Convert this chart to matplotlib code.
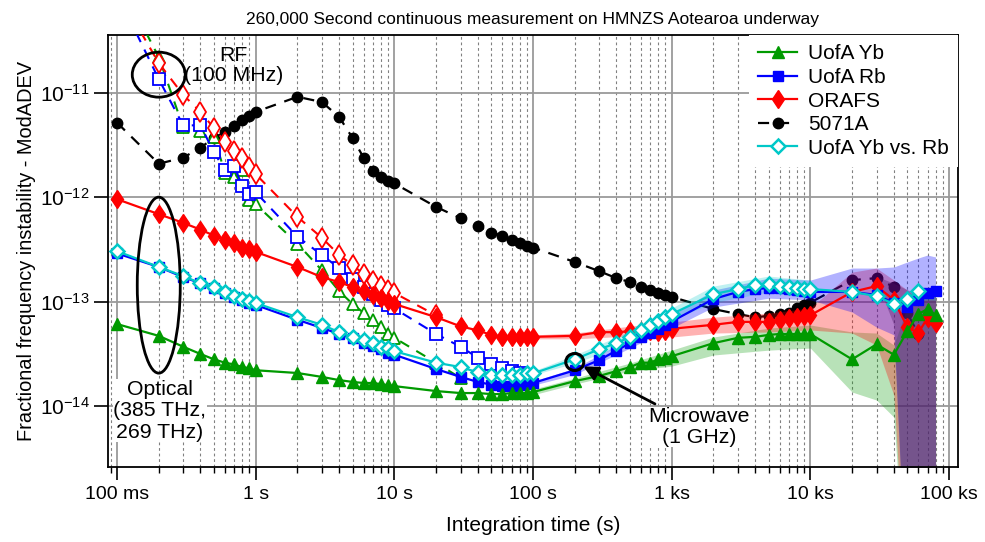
import matplotlib
matplotlib.use("Agg")
import matplotlib.pyplot as plt
from matplotlib.patches import Ellipse
from matplotlib.transforms import ScaledTranslation
import matplotlib.ticker as mticker

plt.rcParams['font.family'] = ['Liberation Sans', 'DejaVu Sans']
plt.rcParams['mathtext.fontset'] = 'custom'
plt.rcParams['mathtext.rm'] = 'Liberation Sans'
plt.rcParams['mathtext.default'] = 'regular'

# ---------------- data ----------------
tau = [0.1, 0.2, 0.3, 0.4, 0.5, 0.6, 0.7, 0.8, 0.9,
       1, 2, 3, 4, 5, 6, 7, 8, 9,
       10, 20, 30, 40, 50, 60, 70, 80, 90,
       100, 200, 300, 400, 500, 600, 700, 800, 900,
       1000, 2000, 3000, 4000, 5000, 6000, 7000, 8000, 9000,
       10000, 20000, 30000, 40000, 50000, 60000, 70000, 80000]

yb = [6.1e-14, 4.7e-14, 3.7e-14, 3.15e-14, 2.8e-14, 2.6e-14, 2.5e-14, 2.36e-14, 2.3e-14,
      2.2e-14, 2.07e-14, 1.9e-14, 1.77e-14, 1.7e-14, 1.66e-14, 1.66e-14, 1.62e-14, 1.58e-14,
      1.55e-14, 1.39e-14, 1.33e-14, 1.33e-14, 1.30e-14, 1.30e-14, 1.33e-14, 1.33e-14, 1.33e-14,
      1.36e-14, 1.73e-14, 1.94e-14, 2.16e-14, 2.36e-14, 2.6e-14, 2.6e-14, 2.8e-14, 2.9e-14,
      3.0e-14, 4.0e-14, 4.5e-14, 4.6e-14, 4.8e-14, 4.9e-14, 4.9e-14, 4.9e-14, 4.9e-14,
      4.9e-14, 2.8e-14, 3.9e-14, 3.1e-14, 5.2e-14, 7.6e-14, 8.5e-14, 7.4e-14]

rb = [2.9e-13, 2.15e-13, 1.72e-13, 1.5e-13, 1.35e-13, 1.21e-13, 1.11e-13, 1.04e-13, 9.7e-14,
      9.3e-14, 6.7e-14, 5.6e-14, 4.9e-14, 4.5e-14, 4.0e-14, 3.75e-14, 3.5e-14, 3.2e-14,
      3.1e-14, 2.26e-14, 1.9e-14, 1.7e-14, 1.6e-14, 1.55e-14, 1.57e-14, 1.58e-14, 1.62e-14,
      1.66e-14, 2.2e-14, 2.75e-14, 3.4e-14, 4.0e-14, 4.6e-14, 5.0e-14, 5.5e-14, 6.0e-14,
      6.45e-14, 1.06e-13, 1.24e-13, 1.32e-13, 1.35e-13, 1.35e-13, 1.32e-13, 1.29e-13, 1.26e-13,
      1.24e-13, 1.24e-13, 1.16e-13, 9.7e-14, 8.9e-14, 1.04e-13, 1.21e-13, 1.26e-13]

orafs = [9.6e-13, 6.9e-13, 5.7e-13, 4.9e-13, 4.3e-13, 3.9e-13, 3.65e-13, 3.3e-13, 3.2e-13,
         3.0e-13, 2.15e-13, 1.72e-13, 1.54e-13, 1.38e-13, 1.26e-13, 1.16e-13, 1.08e-13, 1.01e-13,
         9.5e-14, 7.1e-14, 5.8e-14, 5.3e-14, 4.8e-14, 4.6e-14, 4.6e-14, 4.6e-14, 4.6e-14,
         4.6e-14, 4.7e-14, 5.1e-14, 5.1e-14, 5.2e-14, 5.2e-14, 5.2e-14, 5.1e-14, 5.2e-14,
         5.5e-14, 6.0e-14, 6.4e-14, 6.4e-14, 6.4e-14, 6.7e-14, 7.0e-14, 7.1e-14, 7.3e-14,
         7.4e-14, 1.24e-13, 1.41e-13, 1.04e-13, 5.7e-14, 5.0e-14, 7.0e-14, 6.2e-14]

tau_cs = tau[:51]
cs5071 = [5.2e-12, 2.1e-12, 2.4e-12, 3.0e-12, 3.7e-12, 4.2e-12, 4.8e-12, 5.5e-12, 6.0e-12,
          6.6e-12, 9.2e-12, 8.2e-12, 5.9e-12, 3.7e-12, 2.4e-12, 1.8e-12, 1.57e-12, 1.43e-12,
          1.36e-12, 8.1e-13, 6.3e-13, 5.3e-13, 4.6e-13, 4.3e-13, 3.9e-13, 3.65e-13, 3.4e-13,
          3.3e-13, 2.4e-13, 1.96e-13, 1.68e-13, 1.54e-13, 1.38e-13, 1.29e-13, 1.21e-13, 1.16e-13,
          1.11e-13, 8.5e-14, 7.6e-14, 7.1e-14, 7.3e-14, 7.6e-14, 7.8e-14, 8.7e-14, 9.3e-14,
          9.8e-14, 1.61e-13, 1.68e-13, 1.38e-13, 7.8e-14, 4.9e-14]

tau_ybrb = tau[:51]
ybrb = [3.05e-13, 2.15e-13, 1.76e-13, 1.5e-13, 1.38e-13, 1.24e-13, 1.13e-13, 1.06e-13, 1.01e-13,
        9.7e-14, 7.1e-14, 6.0e-14, 5.1e-14, 4.6e-14, 4.3e-14, 4.0e-14, 3.7e-14, 3.6e-14,
        3.35e-14, 2.6e-14, 2.36e-14, 2.1e-14, 2.0e-14, 1.98e-14, 1.98e-14, 2.0e-14, 2.05e-14,
        2.05e-14, 2.8e-14, 3.5e-14, 4.0e-14, 4.6e-14, 5.35e-14, 6.0e-14, 6.5e-14, 7.1e-14,
        7.6e-14, 1.18e-13, 1.32e-13, 1.44e-13, 1.47e-13, 1.41e-13, 1.38e-13, 1.35e-13, 1.32e-13,
        1.32e-13, 1.24e-13, 1.13e-13, 9.5e-14, 1.06e-13, 1.26e-13]

# RF (100 MHz) comparisons
tau_rf_orafs = tau[:20]
rf_orafs = [9.5e-11, 1.94e-11, 9.6e-12, 6.6e-12, 4.6e-12, 3.4e-12, 2.8e-12, 2.38e-12, 1.95e-12,
            1.67e-12, 6.5e-13, 4.1e-13, 2.8e-13, 2.24e-13, 1.84e-13, 1.58e-13, 1.41e-13, 1.29e-13,
            1.21e-13, 7.4e-14]
tau_rf_rb = tau[:27]
rf_rb = [9.0e-11, 1.36e-11, 4.9e-12, 4.9e-12, 2.7e-12, 1.83e-12, 2.0e-12, 1.28e-12, 1.08e-12,
         1.12e-12, 4.2e-13, 2.8e-13, 2.1e-13, 1.65e-13, 1.38e-13, 1.18e-13, 1.04e-13, 9.3e-14,
         8.6e-14, 4.9e-14, 3.7e-14, 2.9e-14, 2.5e-14, 2.3e-14, 2.16e-14, 2.05e-14, 1.98e-14]
tau_rf_yb = tau[:21]
rf_yb = [1.3e-10, 2.21e-11, 4.7e-12, 4.3e-12, 3.8e-12, 1.73e-12, 1.57e-12, 1.83e-12, 9.4e-13,
         8.6e-13, 3.6e-13, 2.0e-13, 1.26e-13, 9.5e-14, 7.8e-14, 6.7e-14, 5.7e-14, 4.9e-14,
         4.5e-14, 2.6e-14, 1.85e-14]

# confidence bands (long integration times)
tau_band = [100, 200, 500, 1000, 2000, 5000, 10000, 20000, 30000, 40000, 50000, 60000, 70000, 80000]
yb_hi = [1.45e-14, 1.85e-14, 2.58e-14, 3.43e-14, 4.58e-14, 5.58e-14, 5.97e-14, 5.12e-14, 5.0e-14,
         3.84e-14, 8.87e-14, 1.29e-13, 1.29e-13, 1.29e-13]
yb_lo = [1.28e-14, 1.62e-14, 2.16e-14, 2.41e-14, 3.08e-14, 3.43e-14, 3.59e-14, 1.36e-14, 1.14e-14,
         7.83e-15, 1e-16, 1e-16, 1e-16, 1e-16]
orafs_hi = [4.8e-14, 5.0e-14, 5.83e-14, 6.37e-14, 7.1e-14, 7.78e-14, 8.7e-14, 1.92e-13, 2.10e-13,
            1.61e-13, 1.29e-13, 1.04e-13, 1.04e-13, 1.04e-13]
orafs_lo = [4.4e-14, 4.4e-14, 4.68e-14, 4.58e-14, 5.0e-14, 5.12e-14, 5.35e-14, 5.0e-14, 3.84e-14,
            1.27e-14, 1e-16, 1e-16, 1e-16, 1e-16]
rb_hi = [1.73e-14, 2.3e-14, 4.5e-14, 7.4e-14, 1.29e-13, 1.68e-13, 1.61e-13, 2.10e-13, 2.10e-13,
         2.15e-13, 2.40e-13, 2.62e-13, 2.80e-13, 2.68e-13]
rb_lo = [1.58e-14, 2.0e-14, 3.59e-14, 5.58e-14, 8.87e-14, 1.08e-13, 1.04e-13, 7.95e-14, 5.7e-14,
         4.8e-14, 1e-16, 1e-16, 1e-16, 1e-16]
tau_band_ybrb = [100, 200, 500, 1000, 2000, 5000, 10000]
ybrb_hi = [2.16e-14, 3.08e-14, 5.22e-14, 8.7e-14, 1.41e-13, 1.76e-13, 1.61e-13]
ybrb_lo = [1.98e-14, 2.58e-14, 4.0e-14, 6.67e-14, 9.8e-14, 1.24e-13, 1.08e-13]
tau_band_cs = [30000, 40000, 50000, 60000, 70000, 80000]
cs_hi = [1.75e-13, 1.5e-13, 1.3e-13, 1.2e-13, 1.2e-13, 1.2e-13]
cs_lo = [1.6e-13, 6.0e-14, 1e-16, 1e-16, 1e-16, 1e-16]

xtick_vals = [0.1, 1, 10, 100, 1000, 10000, 100000]
xtick_labels = ['100 ms', '1 s', '10 s', '100 s', '1 ks', '10 ks', '100 ks']
ytick_vals = [1e-14, 1e-13, 1e-12, 1e-11]
ytick_labels = [r'$10^{-14}$', r'$10^{-13}$', r'$10^{-12}$', r'$10^{-11}$']

GREEN = '#009a00'
BLUE = '#0000ff'
RED = '#ff0000'
CYAN = '#00c8c8'

# ---------------- figure ----------------
fig = plt.figure(figsize=(9.85, 5.42), dpi=100)
ax = fig.add_axes([108/985, 1-467/542, 850/985, 432/542])
ax.set_xscale('log')
ax.set_yscale('log')
ax.set_xlim(0.0861, 1.161e5)
ax.set_ylim(2.6e-15, 3.6e-11)

# grid
ax.set_axisbelow(True)
ax.grid(True, which='major', axis='both', color='#9a9a9a', lw=1.3, ls='-', zorder=0)
ax.grid(True, which='minor', axis='x', color='#808080', lw=0.8, ls=(0, (2.5, 2.5)), zorder=0)

dash = (0, (5, 4))
# 5071A (below bands)
l_cs, = ax.plot(tau_cs, cs5071, color='k', lw=1.6, ls=dash, marker='o', ms=7.5,
                mfc='k', mec='k', zorder=2, label='5071A')

# bands
ax.fill_between(tau_band_cs, cs_lo, cs_hi, color='#303030', alpha=0.35, lw=0, zorder=2.4)
ax.fill_between(tau_band, yb_lo, yb_hi, color=GREEN, alpha=0.28, lw=0, zorder=2.5)
ax.fill_between(tau_band, orafs_lo, orafs_hi, color=RED, alpha=0.3, lw=0, zorder=2.5)
ax.fill_between(tau_band, rb_lo, rb_hi, color=BLUE, alpha=0.3, lw=0, zorder=2.5)
ax.fill_between(tau_band_ybrb, ybrb_lo, ybrb_hi, color=CYAN, alpha=0.25, lw=0, zorder=2.5)

# RF curves
ax.plot(tau_rf_yb, rf_yb, color=GREEN, lw=1.5, ls=dash, marker='^', ms=9,
        mfc='white', mec=GREEN, mew=1.3, zorder=3)
ax.plot(tau_rf_rb, rf_rb, color=BLUE, lw=1.5, ls=dash, marker='s', ms=8,
        mfc='white', mec=BLUE, mew=1.3, zorder=3)
ax.plot(tau_rf_orafs, rf_orafs, color=RED, lw=1.5, ls=dash, marker='d', ms=10,
        mfc='white', mec=RED, mew=1.3, zorder=3)

# optical curves
l_ora, = ax.plot(tau, orafs, color=RED, lw=1.6, marker='d', ms=9.5, mfc=RED, mec=RED,
                 zorder=4, label='ORAFS')
l_rb, = ax.plot(tau, rb, color=BLUE, lw=1.6, marker='s', ms=7, mfc=BLUE, mec=BLUE,
                zorder=4, label='UofA Rb')
l_yb, = ax.plot(tau, yb, color=GREEN, lw=1.6, marker='^', ms=8, mfc=GREEN, mec=GREEN,
                zorder=4, label='UofA Yb')
l_ybrb, = ax.plot(tau_ybrb, ybrb, color=CYAN, lw=1.6, marker='D', ms=7.5, mfc='white',
                  mec=CYAN, mew=1.8, zorder=5, label='UofA Yb vs. Rb')

# axes formatting
ax.set_xticks(xtick_vals)
ax.set_xticklabels(xtick_labels)
ax.xaxis.set_minor_locator(mticker.LogLocator(base=10, subs=range(2, 10), numticks=20))
ax.xaxis.set_minor_formatter(mticker.NullFormatter())
ax.set_yticks(ytick_vals)
ax.set_yticklabels(ytick_labels)
ax.yaxis.set_minor_locator(mticker.NullLocator())
ax.tick_params(axis='x', which='major', labelsize=14, length=9, width=1.2, direction='out',
               top=False, pad=5)
ax.tick_params(axis='y', which='major', labelsize=15, length=10, width=1.2, direction='out',
               right=False, pad=3)
ax.tick_params(axis='x', which='minor', length=4.5, width=1.0, direction='out', top=False)
for s in ax.spines.values():
    s.set_linewidth(1.3)
    s.set_color('k')

ax.set_title('260,000 Second continuous measurement on HMNZS Aotearoa underway',
             fontsize=12.5, pad=8)
ax.set_xlabel('Integration time (s)', fontsize=15, labelpad=9)
ax.set_ylabel('Fractional frequency instability - ModADEV', fontsize=14.4, labelpad=3)

# legend
leg = ax.legend(handles=[l_yb, l_rb, l_ora, l_cs, l_ybrb], loc='upper right',
                fontsize=15, frameon=True, fancybox=False, borderaxespad=0.0,
                handlelength=1.9, handletextpad=0.5, labelspacing=0.22,
                borderpad=0.45, edgecolor='none', facecolor='white', framealpha=1.0)
leg.set_zorder(10)

# annotations
def ell(x, y, w, h, lw=2.0):
    e = Ellipse((0, 0), w, h, fill=False, ec='k', lw=lw,
                transform=fig.dpi_scale_trans + ScaledTranslation(x, y, ax.transData),
                zorder=8, clip_on=False)
    ax.add_patch(e)

ell(0.2, 1.50e-11, 0.53, 0.45)
ell(0.2, 1.44e-13, 0.43, 1.76)
ell(200, 2.64e-14, 0.18, 0.17, lw=2.2)

ax.text(0.148, 0.929, 'RF\n(100 MHz)', transform=ax.transAxes, ha='center', va='center',
        fontsize=15.3, linespacing=1.05, zorder=9)
ax.text(0.061, 0.130, 'Optical\n(385 THz,\n269 THz)', transform=ax.transAxes, ha='center',
        va='center', fontsize=15.3, linespacing=1.15, zorder=9,
        bbox=dict(facecolor='white', edgecolor='none', pad=0.5))
ax.text(0.695, 0.0926, 'Microwave\n(1 GHz)', transform=ax.transAxes, ha='center',
        va='center', fontsize=15.3, linespacing=1.1, zorder=9,
        bbox=dict(facecolor='white', edgecolor='none', pad=0.5))
ax.annotate('', xy=(200, 2.64e-14), xycoords='data',
            xytext=(0.6435, 0.146), textcoords='axes fraction',
            arrowprops=dict(arrowstyle='-|>', color='k', lw=2.0, mutation_scale=22,
                            shrinkA=0, shrinkB=7),
            zorder=9)

fig.savefig('out.png', dpi=100)
